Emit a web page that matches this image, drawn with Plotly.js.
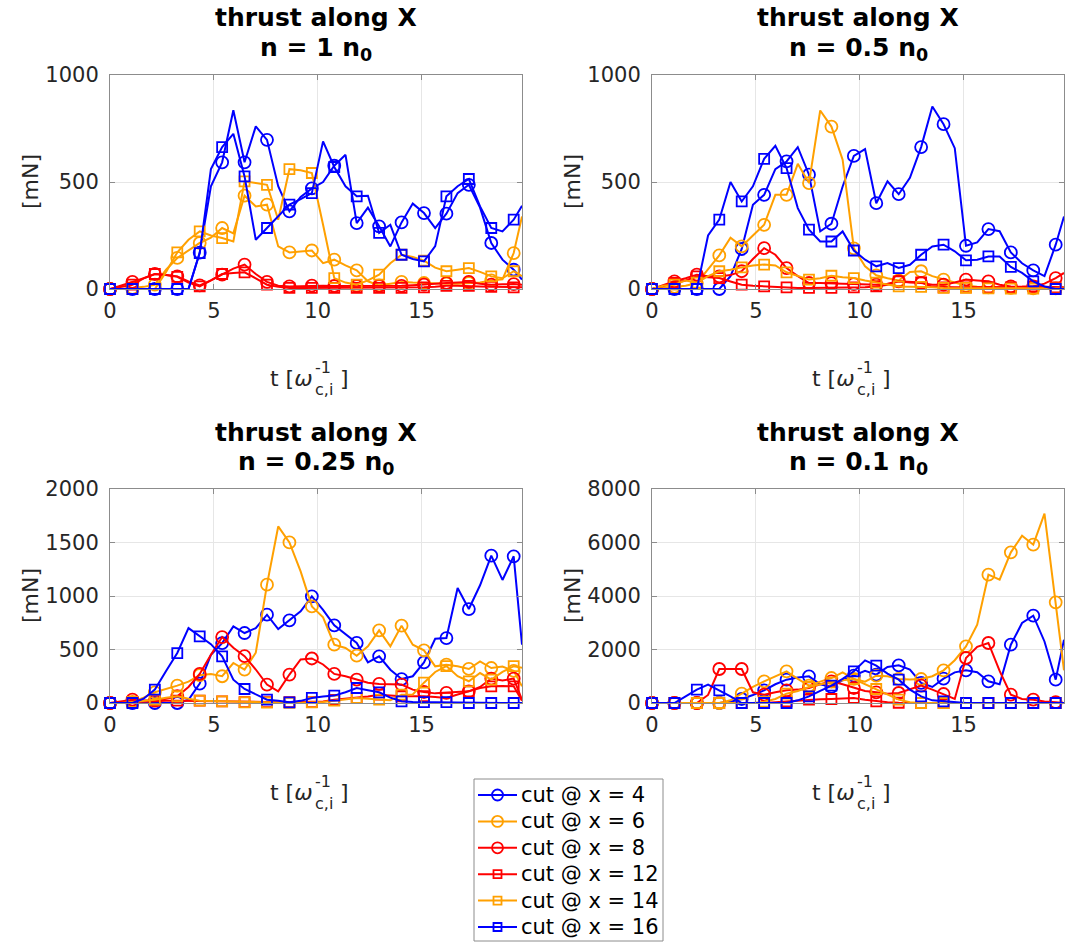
<!DOCTYPE html>
<html>
<head>
<meta charset="utf-8">
<script src="https://cdn.plot.ly/plotly-3.0.1.min.js"></script>
<style>html,body{margin:0;padding:0;background:#fff;}#plot{width:1068px;height:943px;}</style>
</head>
<body>
<div id="plot"></div>
<script>
// time axis [1/omega_ci]
const t = [0,0.54,1.08,1.62,2.16,2.7,3.24,3.78,4.32,4.86,5.4,5.94,6.48,7.02,7.56,8.1,8.64,9.18,9.72,10.26,10.8,11.34,11.88,12.42,12.96,13.5,14.04,14.58,15.12,15.66,16.2,16.74,17.28,17.82,18.36,18.9,19.44,19.84];

const panelTitles = ["n = 1 n", "n = 0.5 n", "n = 0.25 n", "n = 0.1 n"];
const seriesNames = ["cut @ x = 4","cut @ x = 6","cut @ x = 8","cut @ x = 12","cut @ x = 14","cut @ x = 16"];

// n = 1 n0
const n1_c4  = [0,0,0,0,0,0,0,0,170,480,592,835,592,760,697,480,363,430,470,500,576,627,308,380,293,199,311,399,355,285,352,448,487,380,215,137,90,44];
const n1_c6  = [0,0,5,10,20,90,145,180,215,240,285,260,436,386,394,199,171,175,180,121,137,110,87,36,17,25,33,30,28,25,25,25,28,30,40,45,168,339];
const n1_c8  = [0,15,33,50,70,65,59,35,17,40,67,95,114,70,33,15,12,14,16,15,14,14,14,14,14,14,15,18,20,25,28,30,33,25,20,22,23,20];
const n1_c12 = [0,10,20,50,70,65,57,30,12,40,70,75,78,50,20,10,5,5,5,5,5,5,5,5,5,5,5,8,8,10,15,15,15,12,10,8,8,8];
const n1_c14 = [0,0,0,0,0,80,171,230,269,250,238,222,503,495,487,324,560,555,542,300,51,30,20,40,67,120,160,150,132,100,83,90,98,80,59,50,83,60];
const n1_c16 = [0,0,0,0,0,0,0,0,168,560,663,725,526,230,285,340,394,420,448,690,570,480,433,436,262,300,160,140,129,200,433,480,514,386,285,269,324,389];

// n = 0.5 n0
const n2_c4  = [0,0,0,0,0,0,0,60,187,394,440,560,596,663,534,269,305,479,622,654,401,503,443,520,663,853,770,658,202,218,280,270,171,120,87,60,207,339];
const n2_c6  = [0,5,10,15,28,90,157,240,199,250,300,440,440,585,495,834,759,604,190,106,64,50,40,80,83,60,44,30,16,10,8,5,5,4,3,3,3,3];
const n2_c8  = [0,18,36,50,67,60,59,65,83,140,191,160,98,60,28,28,28,25,23,22,20,25,36,30,28,20,20,30,44,40,36,20,12,10,12,25,51,75];
const n2_c12 = [0,15,28,40,59,55,51,35,20,15,12,10,8,5,5,5,5,5,8,8,12,20,36,35,31,10,8,8,8,8,8,8,8,10,12,10,8,8];
const n2_c14 = [0,15,20,40,30,60,83,90,101,110,114,110,78,60,44,50,62,55,51,40,30,20,12,10,10,8,5,5,5,3,3,3,2,2,2,2,2,2];
const n2_c16 = [0,0,0,0,0,250,324,500,409,480,608,669,565,378,277,222,222,269,180,137,106,121,98,113,160,199,207,176,134,137,152,152,103,75,36,12,0,0];

// n = 0.25 n0
const n3_c4  = [0,0,0,0,0,0,0,30,181,450,560,716,654,700,825,691,773,857,997,870,726,640,561,380,436,311,224,250,380,600,607,1075,878,1100,1377,1150,1371,545];
const n3_c6  = [0,0,10,50,100,130,162,200,260,270,250,374,312,470,1106,1650,1501,1230,903,800,545,514,442,530,679,530,723,545,492,343,358,343,318,389,327,340,300,156];
const n3_c8  = [0,15,31,25,22,40,63,150,272,450,616,516,438,313,172,109,266,407,416,360,272,250,219,190,178,175,172,125,103,90,94,100,109,150,228,210,228,31];
const n3_c12 = [0,5,10,15,22,20,22,20,22,20,16,10,8,8,8,8,8,8,8,15,30,40,47,60,78,70,63,63,63,55,47,80,109,140,156,160,156,20];
const n3_c14 = [0,0,10,20,31,50,63,40,22,18,16,10,5,3,3,3,2,3,5,10,22,35,47,40,31,25,78,80,190,290,345,250,203,280,219,290,344,330];
const n3_c16 = [0,0,0,40,125,300,467,700,623,550,436,218,131,80,31,20,6,20,47,60,69,100,140,120,100,50,16,10,8,8,8,5,0,0,0,0,0,0];

// n = 0.1 n0
const n4_c4  = [0,0,0,0,0,0,0,50,150,300,473,700,872,950,997,700,600,850,1022,1200,1059,1350,1408,1250,750,600,909,1146,1221,1150,810,700,2180,2990,3264,2300,872,2367];
const n4_c6  = [0,0,0,0,0,0,0,100,349,600,810,1000,1184,900,648,800,934,1146,900,800,1022,1000,900,880,897,1000,1221,1600,2118,2928,4797,4610,5632,6250,5918,7077,3763,1221];
const n4_c8  = [0,0,0,0,0,300,1271,1271,1271,400,311,400,473,500,561,700,810,700,561,450,400,350,374,500,648,500,336,150,1682,2100,2243,1200,311,150,125,60,30,0];
const n4_c12 = [0,0,0,0,0,0,0,0,0,0,0,30,62,90,125,140,150,170,187,120,62,30,10,5,0,0,0,0,0,0,0,0,0,0,0,0,0,0];
const n4_c14 = [0,0,0,0,0,0,0,0,0,0,50,150,349,450,598,700,772,850,897,700,523,300,125,30,0,0,0,0,0,0,0,0,0,0,0,0,0,0];
const n4_c16 = [0,0,0,250,498,685,473,250,0,0,0,0,0,100,249,450,648,900,1184,1595,1395,1100,872,500,249,100,62,20,0,0,0,0,0,0,0,0,0,0];

const yTicks = [[0,500,1000],[0,500,1000],[0,500,1000,1500,2000],[0,2000,4000,6000,8000]];
const yRanges = [[0,1000],[0,1000],[0,2000],[0,8000]];

// ---------- styling ----------
const BLUE = '#0000ff', ORANGE = '#ffa000', RED = '#ff0000';
const styles = [
  {color: BLUE,   symbol: 'circle-open', size: 12},
  {color: ORANGE, symbol: 'circle-open', size: 12},
  {color: RED,    symbol: 'circle-open', size: 12},
  {color: RED,    symbol: 'square-open', size: 10},
  {color: ORANGE, symbol: 'square-open', size: 10},
  {color: BLUE,   symbol: 'square-open', size: 10}
];
const panelData = [
  [n1_c4, n1_c6, n1_c8, n1_c12, n1_c14, n1_c16],
  [n2_c4, n2_c6, n2_c8, n2_c12, n2_c14, n2_c16],
  [n3_c4, n3_c6, n3_c8, n3_c12, n3_c14, n3_c16],
  [n4_c4, n4_c6, n4_c8, n4_c12, n4_c14, n4_c16]
];

const W = 1068, H = 943;
const px = x => x / W, py = y => 1 - y / H;
const boxes = [ // pixel boxes of plot areas [left,right,top,bottom]
  [110, 522, 75, 289], [652, 1064, 75, 289],
  [110, 522, 489, 703], [652, 1064, 489, 703]
];

const FONT = 'DejaVu Sans';
const TXT = '#262626';
const AX = '#8c8c8c';
const traces = [];
const layout = {
  width: W, height: H,
  margin: {l: 0, r: 0, t: 0, b: 0},
  paper_bgcolor: '#fff', plot_bgcolor: '#fff',
  showlegend: false,
  annotations: [],
  shapes: []
};

const markerIdx = t.map((v, i) => i).filter(i => i % 2 === 0 && i < t.length - 1);

boxes.forEach((b, k) => {
  const sfx = k === 0 ? '' : String(k + 1);
  const xa = 'x' + sfx, ya = 'y' + sfx;
  layout['xaxis' + sfx] = {
    domain: [px(b[0]), px(b[1])], anchor: ya, range: [0, 19.84], automargin: false,
    tickvals: [0, 5, 10, 15], showgrid: true, gridcolor: '#e6e6e6', gridwidth: 1,
    showline: true, mirror: 'ticks', linecolor: AX, linewidth: 1,
    ticks: 'inside', ticklen: 5, tickcolor: AX, zeroline: false,
    tickfont: {family: FONT, size: 21, color: TXT}, ticklabelstandoff: 3
  };
  layout['yaxis' + sfx] = {
    domain: [py(b[3]), py(b[2])], anchor: xa, range: yRanges[k], automargin: false,
    tickvals: yTicks[k], showgrid: true, gridcolor: '#e6e6e6', gridwidth: 1,
    showline: true, mirror: 'ticks', linecolor: AX, linewidth: 1,
    ticks: 'inside', ticklen: 5, tickcolor: AX, zeroline: false,
    tickfont: {family: FONT, size: 21, color: TXT}, ticklabelstandoff: 6
  };
  panelData[k].forEach((ys, s) => {
    const st = styles[s];
    traces.push({
      type: 'scatter', mode: 'lines', x: t, y: ys, xaxis: xa, yaxis: ya,
      line: {color: st.color, width: 2}, showlegend: false, hoverinfo: 'skip'
    });
    traces.push({
      type: 'scatter', mode: 'markers',
      x: markerIdx.map(i => t[i]), y: markerIdx.map(i => ys[i]),
      xaxis: xa, yaxis: ya, cliponaxis: false,
      marker: {symbol: st.symbol, size: st.size, color: st.color, line: {color: st.color, width: 1.8}},
      showlegend: false, hoverinfo: 'skip'
    });
  });
  // titles
  const cx = (b[0] + b[1]) / 2;
  const top = b[2];
  layout.annotations.push({
    xref: 'paper', yref: 'paper', x: px(cx), y: py(top - 57), xanchor: 'center', yanchor: 'middle',
    text: '<b>thrust along X</b>', showarrow: false, font: {family: FONT, size: 25, color: '#000'}
  });
  layout.annotations.push({
    xref: 'paper', yref: 'paper', x: px(cx), y: py(top - 44), xanchor: 'center', yanchor: 'top',
    text: '<b>' + panelTitles[k] + '<sub>0</sub></b>', showarrow: false, font: {family: FONT, size: 25, color: '#000'}
  });
  // y label
  layout.annotations.push({
    xref: 'paper', yref: 'paper', x: px(b[0] - 80), y: py((b[2] + b[3]) / 2), xanchor: 'center', yanchor: 'middle',
    text: '[mN]', textangle: -90, showarrow: false, font: {family: FONT, size: 22, color: TXT}
  });
  // x label: t [ω^{-1}_{c,i}]
  const ly = b[3] + 89;
  layout.annotations.push({
    xref: 'paper', yref: 'paper', x: px(cx - 2), y: py(ly), xanchor: 'right', yanchor: 'middle', borderpad: 0,
    text: 't [<i>ω</i>', showarrow: false, font: {family: FONT, size: 22, color: TXT}
  });
  layout.annotations.push({
    xref: 'paper', yref: 'paper', x: px(cx - 2), y: py(ly - 11), xanchor: 'left', yanchor: 'middle', borderpad: 0,
    text: '-1', showarrow: false, font: {family: FONT, size: 16, color: TXT}
  });
  layout.annotations.push({
    xref: 'paper', yref: 'paper', x: px(cx - 2), y: py(ly + 11), xanchor: 'left', yanchor: 'middle', borderpad: 0,
    text: 'c,i', showarrow: false, font: {family: FONT, size: 16, color: TXT}
  });
  layout.annotations.push({
    xref: 'paper', yref: 'paper', x: px(cx + 23), y: py(ly), xanchor: 'left', yanchor: 'middle', borderpad: 0,
    text: ']', showarrow: false, font: {family: FONT, size: 22, color: TXT}
  });
});

// ---------- legend box (drawn as shapes + text) ----------
const LG = {left: 474, right: 663, top: 779, bottom: 941, row0: 795, dy: 26.4, l0: 478, l1: 517, mx: 497.5, tx: 520};
layout.shapes.push({type: 'rect', xref: 'paper', yref: 'paper',
  x0: px(LG.left), x1: px(LG.right), y0: py(LG.bottom), y1: py(LG.top),
  line: {color: AX, width: 1}, fillcolor: '#fff', layer: 'below'});
seriesNames.forEach((name, s) => {
  const st = styles[s];
  const yy = LG.row0 + s * LG.dy;
  layout.shapes.push({type: 'line', xref: 'paper', yref: 'paper',
    x0: px(LG.l0), x1: px(LG.l1), y0: py(yy), y1: py(yy), line: {color: st.color, width: 2}});
  const r = st.symbol.startsWith('circle') ? 5.5 : 4;
  layout.shapes.push({type: st.symbol.startsWith('circle') ? 'circle' : 'rect', xref: 'paper', yref: 'paper',
    x0: px(LG.mx - r), x1: px(LG.mx + r), y0: py(yy + r), y1: py(yy - r),
    line: {color: st.color, width: 1.8}, fillcolor: 'rgba(0,0,0,0)'});
  layout.annotations.push({xref: 'paper', yref: 'paper', x: px(LG.tx), y: py(yy), xanchor: 'left', yanchor: 'middle',
    text: name, showarrow: false, borderpad: 0, font: {family: FONT, size: 21, color: '#000'}});
});

Plotly.newPlot('plot', traces, layout, {staticPlot: true, displayModeBar: false});
</script>
</body>
</html>
